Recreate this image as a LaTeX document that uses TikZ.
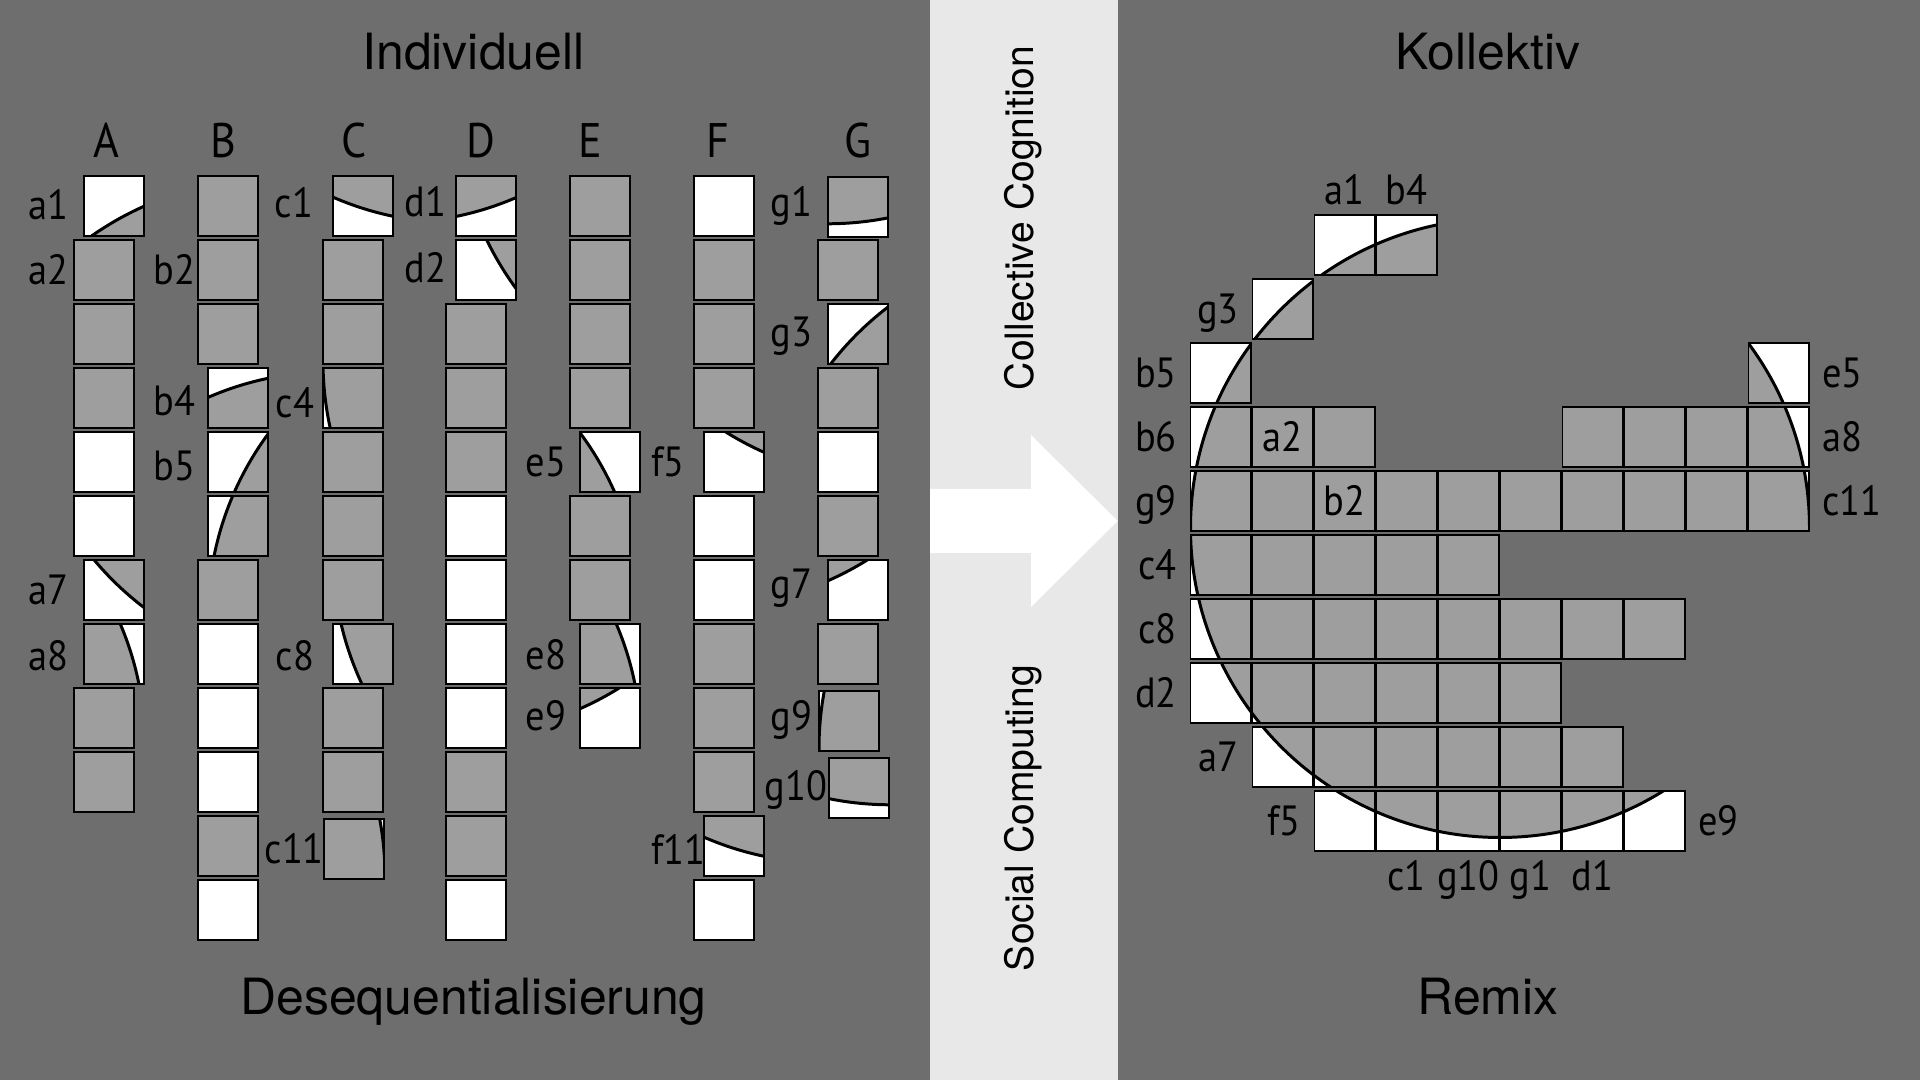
\documentclass[tikz,border=0pt]{standalone}
\usepackage{fontspec}
\setmainfont{TeX Gyre Heros}
\newfontfamily\lblfont[FakeStretch=0.91]{PT Sans}
\usetikzlibrary{positioning}
\definecolor{panel}{HTML}{6E6E6E}
\definecolor{band}{HTML}{E8E8E8}
\definecolor{tilegray}{HTML}{9E9E9E}
\providecommand{\discx}{1500}
\providecommand{\discy}{528}
\providecommand{\discr}{309.5}
\providecommand{\gridx}{1190.5}
\providecommand{\gridy}{214.7}
\tikzstyle{tile} = [draw, line width=0.55pt, inner sep=0pt, outer sep=0pt, minimum width=0.6cm, minimum height=0.6cm, anchor=north west]
\tikzstyle{disc} = [fill=tilegray, draw=black, line width=0.85pt]
\tikzstyle{lbl} = [font=\lblfont\fontsize{12pt}{14pt}\selectfont, inner sep=0pt, text height=8.4pt, text depth=0pt]
\tikzstyle{letter} = [font=\lblfont\fontsize{13.8pt}{16pt}\selectfont, anchor=base, inner sep=0pt]
\tikzstyle{title} = [font=\fontsize{14.2pt}{17pt}\selectfont, anchor=base, inner sep=0pt]
\tikzstyle{side} = [font=\fontsize{11.1pt}{13pt}\selectfont, rotate=90, inner sep=0pt]

% tile cut by the circle: name, x, y, column and row in the remix grid
\newcommand{\cuttile}[5]{%
  \pgfmathsetmacro{\discdx}{\discx-(\gridx+62*#4)}%
  \pgfmathsetmacro{\discdy}{\discy-(\gridy+64*#5)}%
  \node[tile, fill=white, path picture={\filldraw[disc] ([shift={(\discdx,\discdy)}]path picture bounding box.north west) circle[radius=\discr];}] (#1) at ({#2},{#3}) {};}

\begin{document}
\begin{tikzpicture}[x=0.01cm, y=-0.01cm]
    \useasboundingbox (0,0) rectangle (1920,1080);
    \fill[panel] (0,0) rectangle (930,1080);
    \fill[band] (930,0) rectangle (1118,1080);
    \fill[panel] (1118,0) rectangle (1920,1080);

    \node[title] (indiv) at (473.5,70) {Individuell};
    \node[title] (koll) at (1488,70) {Kollektiv};
    \node[title] (deseq) at (473.5,1015) {Desequentialisierung};
    \node[title] (remix) at (1488,1015) {Remix};
    \node[side] (cogn) at (1023,218) {Collective Cognition};
    \node[side] (socc) at (1023,818) {Social Computing};

    % Arrow
    \fill[white] (930,489) -- (1031,489) -- (1031,435) -- (1117.7,521) -- (1031,607) -- (1031,553) -- (930,553) -- cycle;

    \node[letter] (colA) at (106.5,158) {A};
    \node[letter] (colB) at (223,158) {B};
    \node[letter] (colC) at (353.7,158) {C};
    \node[letter] (colD) at (480.5,158) {D};
    \node[letter] (colE) at (590,158) {E};
    \node[letter] (colF) at (717.6,158) {F};
    \node[letter] (colG) at (858,158) {G};

    % Left columns
    \foreach \r/\f in {1/tilegray,2/tilegray,3/tilegray,4/white,5/white,8/tilegray,9/tilegray}
        \node[tile, fill=\f] (A\r) at (74,{176+64*\r}) {};
    \cuttile{A0}{84}{176}{2}{0}
    \cuttile{A6}{84}{560}{1}{8}
    \cuttile{A7}{84}{624}{9}{3}
    \foreach \r/\f in {0/tilegray,1/tilegray,2/tilegray,6/tilegray,7/white,8/white,9/white,10/tilegray,11/white}
        \node[tile, fill=\f] (B\r) at (198,{176+64*\r}) {};
    \cuttile{B3}{208}{368}{3}{0}
    \cuttile{B4}{208}{432}{0}{2}
    \cuttile{B5}{208}{496}{0}{3}
    \foreach \r in {1,2,4,5,6,8,9}
        \node[tile, fill=tilegray] (C\r) at (323,{176+64*\r}) {};
    \cuttile{C0}{333}{176}{3}{9}
    \cuttile{C3}{323}{368}{0}{5}
    \cuttile{C7}{333}{624}{0}{6}
    \cuttile{C10}{324}{819}{9}{4}
    \foreach \r/\f in {2/tilegray,3/tilegray,4/tilegray,5/white,6/white,7/white,8/white,9/tilegray,10/tilegray,11/white}
        \node[tile, fill=\f] (D\r) at (446,{176+64*\r}) {};
    \cuttile{D0}{456}{176}{6}{9}
    \cuttile{D1}{456}{240}{0}{7}
    \foreach \r in {0,1,2,3,5,6}
        \node[tile, fill=tilegray] (E\r) at (570,{176+64*\r}) {};
    \cuttile{E4}{580}{432}{9}{2}
    \cuttile{E7}{580}{624}{9}{3}
    \cuttile{E8}{580}{688}{7}{9}
    \foreach \r/\f in {0/white,1/tilegray,2/tilegray,3/tilegray,5/white,6/white,7/tilegray,8/tilegray,9/tilegray,11/white}
        \node[tile, fill=\f] (F\r) at (694,{176+64*\r}) {};
    \cuttile{F4}{704}{432}{2}{9}
    \cuttile{F10}{704}{816}{3}{9}
    \foreach \r/\f in {1/tilegray,3/tilegray,4/white,5/tilegray,7/tilegray}
        \node[tile, fill=\f] (G\r) at (818,{176+64*\r}) {};
    \cuttile{G0}{828}{177}{5}{9}
    \cuttile{G2}{828}{304}{1}{1}
    \cuttile{G6}{828}{560}{7}{9}
    \cuttile{G8}{819}{691}{0}{4}
    \cuttile{G9}{829}{758}{4}{9}

    \node[lbl, anchor=west] (la1) at (28,205) {a1};
    \node[lbl, anchor=west] (la2) at (28,270) {a2};
    \node[lbl, anchor=west] (la7) at (28,590) {a7};
    \node[lbl, anchor=west] (la8) at (28,656) {a8};
    \node[lbl, anchor=west] (lb2) at (153,270) {b2};
    \node[lbl, anchor=west] (lb4) at (153,401) {b4};
    \node[lbl, anchor=west] (lb5) at (153,466) {b5};
    \node[lbl, anchor=west] (lc1) at (274,203) {c1};
    \node[lbl, anchor=west] (lc4) at (275,403) {c4};
    \node[lbl, anchor=west] (lc8) at (275,656) {c8};
    \node[lbl, anchor=west] (lc11) at (264,849) {c11};
    \node[lbl, anchor=west] (ld1) at (404,202) {d1};
    \node[lbl, anchor=west] (ld2) at (404,268) {d2};
    \node[lbl, anchor=west] (le5) at (525,462) {e5};
    \node[lbl, anchor=west] (le8) at (525,655) {e8};
    \node[lbl, anchor=west] (le9) at (525,716) {e9};
    \node[lbl, anchor=west] (lf5) at (651,462) {f5};
    \node[lbl, anchor=west] (lf11) at (651,850) {f11};
    \node[lbl, anchor=west] (lg1) at (770,202) {g1};
    \node[lbl, anchor=west] (lg3) at (770,332) {g3};
    \node[lbl, anchor=west] (lg7) at (770,584) {g7};
    \node[lbl, anchor=west] (lg9) at (770,716) {g9};
    \node[lbl, anchor=west] (lg10) at (764,786) {g10};

    % Remix grid
    \foreach \r/\a/\b in {0/2/3,1/1/1,2/0/0,2/9/9,3/0/2,3/6/9,4/0/9,5/0/4,6/0/7,7/0/5,8/1/6,9/2/7}
        \foreach \c in {\a,...,\b}
            {\cuttile{R\c-\r}{\gridx+62*\c}{\gridy+64*\r}{\c}{\r}}

    \node[lbl, above=0.09cm of R2-0] (ra1) {a1};
    \node[lbl, above=0.09cm of R3-0] (rb4) {b4};
    \node[lbl, left=0.13cm of R1-1] (rg3) {g3};
    \node[lbl, left=0.13cm of R0-2] (rb5) {b5};
    \node[lbl, right=0.13cm of R9-2] (re5) {e5};
    \node[lbl, left=0.13cm of R0-3] (rb6) {b6};
    \node[lbl] (ra2) at (R1-3) {a2};
    \node[lbl, right=0.13cm of R9-3] (ra8) {a8};
    \node[lbl, left=0.13cm of R0-4] (rg9) {g9};
    \node[lbl] (rb2) at (R2-4) {b2};
    \node[lbl, right=0.13cm of R9-4] (rc11) {c11};
    \node[lbl, left=0.13cm of R0-5] (rc4) {c4};
    \node[lbl, left=0.13cm of R0-6] (rc8) {c8};
    \node[lbl, left=0.13cm of R0-7] (rd2) {d2};
    \node[lbl, left=0.13cm of R1-8] (ra7) {a7};
    \node[lbl, left=0.13cm of R2-9] (rf5) {f5};
    \node[lbl, right=0.13cm of R7-9] (re9) {e9};
    \node[lbl, below=0.1cm of R3-9] (rc1) {c1};
    \node[lbl, below=0.1cm of R4-9] (rg10) {g10};
    \node[lbl, below=0.1cm of R5-9] (rg1) {g1};
    \node[lbl, below=0.1cm of R6-9] (rd1) {d1};
\end{tikzpicture}
\end{document}
